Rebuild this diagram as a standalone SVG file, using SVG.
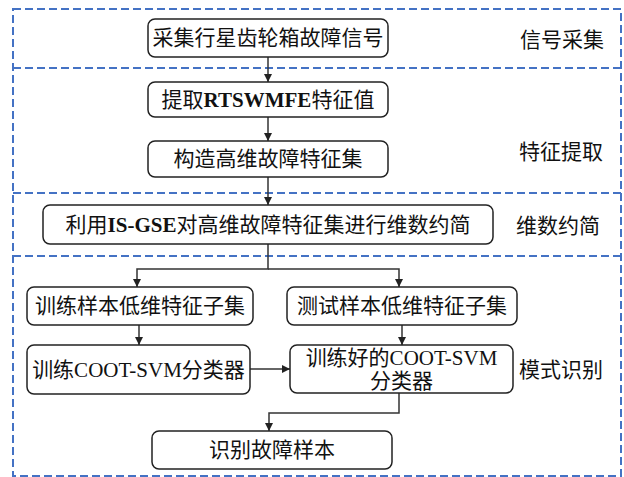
<svg xmlns="http://www.w3.org/2000/svg" width="624" height="477" viewBox="0 0 624 477">
<style>
.frame{fill:none;stroke:#4472c4;stroke-width:2;stroke-dasharray:8 4}
.box{fill:#fff;stroke:#222;stroke-width:1.5}
.t{font-family:"Liberation Serif","Noto Sans CJK SC",serif;font-size:21px;fill:#111;text-anchor:middle;dominant-baseline:central}
.lbl{font-family:"Liberation Serif","Noto Sans CJK SC",serif;font-size:21px;fill:#111;text-anchor:start;dominant-baseline:central}
.b{font-weight:bold}
.c{fill:none;stroke:#333;stroke-width:1.5}
</style>
<defs>
<marker id="ah" viewBox="0 0 10 10" refX="10" refY="5" markerWidth="10" markerHeight="8" markerUnits="userSpaceOnUse" orient="auto">
<path d="M0,0 L10,5 L0,10 z" fill="#222"/>
</marker>
</defs>
<g id="frames">
<rect class="frame" x="13" y="9" width="608" height="467"/>
<line class="frame" x1="13" y1="68" x2="621" y2="68"/>
<line class="frame" x1="13" y1="193" x2="621" y2="193"/>
<line class="frame" x1="13" y1="256" x2="621" y2="256"/>
<text class="lbl" x="520" y="40">信号采集</text>
<text class="lbl" x="519" y="152">特征提取</text>
<text class="lbl" x="516" y="226">维数约简</text>
<text class="lbl" x="519" y="370">模式识别</text>
</g>
<g id="connectors">
<line class="c" x1="268" y1="57" x2="268" y2="82" marker-end="url(#ah)"/>
<line class="c" x1="268" y1="117" x2="268" y2="141" marker-end="url(#ah)"/>
<line class="c" x1="268" y1="177" x2="268" y2="205" marker-end="url(#ah)"/>
<polyline class="c" points="268,244 268,269 137,269 137,287" marker-end="url(#ah)"/>
<polyline class="c" points="268,269 399,269 399,287" marker-end="url(#ah)"/>
<line class="c" x1="139" y1="325" x2="139" y2="345" marker-end="url(#ah)"/>
<line class="c" x1="402" y1="325" x2="402" y2="345" marker-end="url(#ah)"/>
<line class="c" x1="250" y1="369" x2="290" y2="369" marker-end="url(#ah)"/>
<polyline class="c" points="399,393 399,413 269,413 269,431" marker-end="url(#ah)"/>
</g>
<g id="n1"><rect class="box" x="148" y="19" width="240" height="38" rx="7"/><text class="t" x="268" y="38">采集行星齿轮箱故障信号</text></g>
<g id="n2"><rect class="box" x="148" y="82" width="240" height="35" rx="7"/><text class="t" x="268" y="99.5">提取<tspan class="b">RTSWMFE</tspan>特征值</text></g>
<g id="n3"><rect class="box" x="148" y="141" width="240" height="36" rx="7"/><text class="t" x="268" y="159">构造高维故障特征集</text></g>
<g id="n4"><rect class="box" x="43" y="205" width="450" height="39" rx="7"/><text class="t" x="268" y="224.5">利用<tspan class="b">IS-GSE</tspan>对高维故障特征集进行维数约简</text></g>
<g id="n5"><rect class="box" x="27" y="287" width="226" height="38" rx="7"/><text class="t" x="140" y="306">训练样本低维特征子集</text></g>
<g id="n6"><rect class="box" x="287" y="287" width="230" height="38" rx="7"/><text class="t" x="402" y="306">测试样本低维特征子集</text></g>
<g id="n7"><rect class="box" x="27" y="345" width="223" height="49" rx="7"/><text class="t" x="138.5" y="369.5">训练COOT-SVM分类器</text></g>
<g id="n8"><rect class="box" x="290" y="345" width="223" height="48" rx="7"/><text class="t" x="401.5" y="358">训练好的COOT-SVM</text><text class="t" x="401.5" y="381">分类器</text></g>
<g id="n9"><rect class="box" x="152" y="431" width="240" height="38" rx="7"/><text class="t" x="272" y="450">识别故障样本</text></g>
</svg>
